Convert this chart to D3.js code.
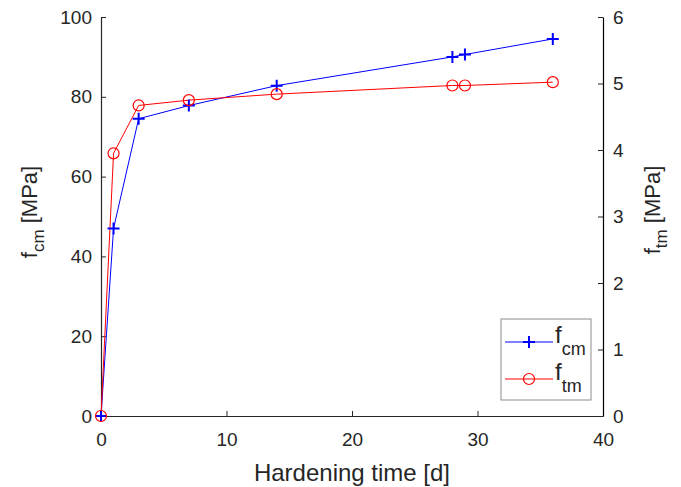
<!DOCTYPE html>
<html>
<head>
<meta charset="utf-8">
<script src="https://cdn.jsdelivr.net/npm/d3@7"></script>
<style>
  body { margin: 0; background: #fff; }
  text { font-family: "Liberation Sans", Arial, sans-serif; fill: #262626; }
</style>
</head>
<body>
<svg id="chart" width="681" height="487"></svg>
<script>
// hardening time in days
const days = [0, 1, 3, 7, 14, 28, 29, 36];
// compressive strength f_cm [MPa]
const fcm = [0, 47, 74.5, 77.8, 82.8, 90, 90.6, 94.5];
// tensile strength f_tm [MPa]
const ftm = [0, 3.95, 4.67, 4.75, 4.84, 4.97, 4.97, 5.02];

const xTicks = [0, 10, 20, 30, 40];
const yLeftTicks = [0, 20, 40, 60, 80, 100];
const yRightTicks = [0, 1, 2, 3, 4, 5, 6];

const margin = { top: 17, right: 78, bottom: 71, left: 101 };
const width = 681, height = 487;
const innerWidth = width - margin.left - margin.right;
const innerHeight = height - margin.top - margin.bottom;

const svg = d3.select("#chart");
const g = svg.append("g").attr("transform", `translate(${margin.left},${margin.top})`);

const x = d3.scaleLinear().domain([0, 40]).range([0, innerWidth]);
const yL = d3.scaleLinear().domain([0, 100]).range([innerHeight, 0]);
const yR = d3.scaleLinear().domain([0, 6]).range([innerHeight, 0]);

const axisColor = "#262626";
const tickFont = 19;

// x-axis
const xAxis = g.append("g")
  .attr("transform", `translate(0,${innerHeight})`)
  .call(d3.axisBottom(x).tickValues(xTicks).tickSizeInner(-5).tickSizeOuter(0).tickPadding(17));

// left axis
const yAxisL = g.append("g")
  .call(d3.axisLeft(yL).tickValues(yLeftTicks).tickSizeInner(-5).tickSizeOuter(0).tickPadding(9));

// right axis
const yAxisR = g.append("g")
  .attr("transform", `translate(${innerWidth},0)`)
  .call(d3.axisRight(yR).tickValues(yRightTicks).tickFormat(d3.format("d"))
    .tickSizeInner(-5).tickSizeOuter(0).tickPadding(10));

[xAxis, yAxisL, yAxisR].forEach(a => {
  a.select(".domain").attr("stroke", axisColor).attr("stroke-width", 1.2);
  a.selectAll(".tick line").attr("stroke", axisColor);
  a.selectAll(".tick text").attr("font-size", tickFont).attr("fill", axisColor);
});
yAxisR.select(".domain").attr("stroke", "#000");

// lines
const blueLine = d3.line().x((d, i) => x(days[i])).y(d => yL(d));
const redLine = d3.line().x((d, i) => x(days[i])).y(d => yR(d));

g.append("path").datum(fcm)
  .attr("fill", "none").attr("stroke", "#0000ff").attr("stroke-width", 1).attr("d", blueLine);
g.append("path").datum(ftm)
  .attr("fill", "none").attr("stroke", "#ff0000").attr("stroke-width", 1).attr("d", redLine);

// markers
g.selectAll(".plus").data(fcm).enter().append("path")
  .attr("d", "M-6,0H6M0,-6V6")
  .attr("transform", (d, i) => `translate(${x(days[i])},${yL(d)})`)
  .attr("stroke", "#0000ff").attr("stroke-width", 2).attr("fill", "none");

g.selectAll(".circ").data(ftm).enter().append("circle")
  .attr("cx", (d, i) => x(days[i])).attr("cy", d => yR(d)).attr("r", 5.5)
  .attr("stroke", "#ff0000").attr("stroke-width", 1.2).attr("fill", "none");

// axis labels
svg.append("text")
  .attr("x", margin.left + innerWidth / 2).attr("y", 481)
  .attr("text-anchor", "middle").attr("font-size", 24)
  .text("Hardening time [d]");

svg.append("text")
  .attr("transform", `translate(37,212) rotate(-90)`)
  .attr("text-anchor", "middle").attr("font-size", 22)
  .html('f<tspan font-size="17" dy="7">cm</tspan><tspan dy="-7"> [MPa]</tspan>');

svg.append("text")
  .attr("transform", `translate(660,210) rotate(-90)`)
  .attr("text-anchor", "middle").attr("font-size", 22)
  .html('f<tspan font-size="17" dy="7">tm</tspan><tspan dy="-7"> [MPa]</tspan>');

// legend
const legend = svg.append("g").attr("transform", "translate(501,319)");
legend.append("rect").attr("width", 90).attr("height", 81)
  .attr("fill", "#fff").attr("stroke", "#8c8c8c").attr("stroke-width", 1);

const legendItems = [
  { name: "cm", color: "#0000ff", marker: "plus", y: 23 },
  { name: "tm", color: "#ff0000", marker: "circle", y: 60 }
];
legendItems.forEach(it => {
  legend.append("line").attr("x1", 4).attr("x2", 52).attr("y1", it.y).attr("y2", it.y)
    .attr("stroke", it.color).attr("stroke-width", 1);
  if (it.marker === "plus") {
    legend.append("path").attr("d", "M-6,0H6M0,-6V6")
      .attr("transform", `translate(28,${it.y})`)
      .attr("stroke", it.color).attr("stroke-width", 2);
  } else {
    legend.append("circle").attr("cx", 28).attr("cy", it.y).attr("r", 5.5)
      .attr("stroke", it.color).attr("stroke-width", 1.2).attr("fill", "none");
  }
  legend.append("text").attr("x", 54).attr("y", it.y + 1).attr("font-size", 24)
    .html(`f<tspan font-size="18" dy="12">${it.name}</tspan>`);
});
</script>
</body>
</html>
